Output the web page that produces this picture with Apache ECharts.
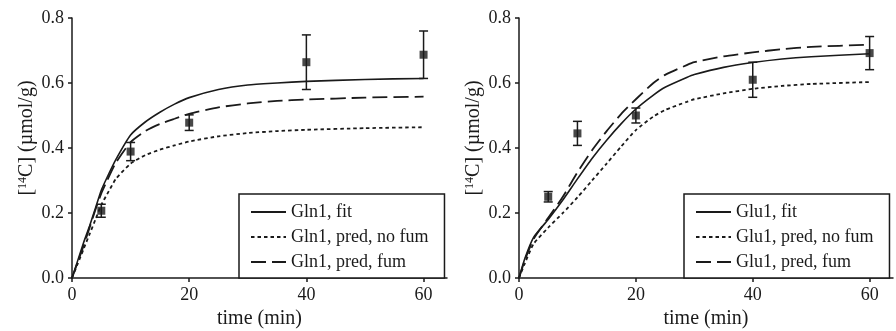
<!DOCTYPE html>
<html>
<head>
<meta charset="utf-8">
<script src="https://cdn.jsdelivr.net/npm/echarts@6/dist/echarts.min.js"></script>
<style>
  html, body { margin: 0; padding: 0; background: #fff; }
  #chart { width: 896px; height: 331px; }
</style>
</head>
<body>
<div id="chart"></div>
<script>
// observed points (both panels)
const obsTime = [5, 10, 20, 40, 60];
const gln1Obs = [0.207, 0.389, 0.478, 0.664, 0.687];
const gln1Err = [0.02, 0.028, 0.024, 0.084, 0.073];
const glu1Obs = [0.25, 0.445, 0.50, 0.61, 0.692];
const glu1Err = [0.016, 0.037, 0.023, 0.054, 0.051];

// model curves, left panel (Gln1)
const gln1Time = [0, 1, 2, 3, 4, 5, 6, 7.5, 10, 12.5, 15, 17.5, 20, 25, 30, 35, 40, 50, 60];
const gln1Fit = [0, 0.055, 0.11, 0.16, 0.215, 0.27, 0.31, 0.365, 0.44, 0.48, 0.51, 0.535, 0.555, 0.58, 0.594, 0.6, 0.605, 0.611, 0.614];
const gln1NoFum = [0, 0.045, 0.09, 0.135, 0.18, 0.225, 0.258, 0.305, 0.352, 0.378, 0.395, 0.408, 0.42, 0.436, 0.446, 0.452, 0.456, 0.461, 0.464];
const gln1Fum = [0, 0.05, 0.1, 0.155, 0.21, 0.26, 0.3, 0.355, 0.418, 0.452, 0.474, 0.49, 0.505, 0.525, 0.537, 0.545, 0.549, 0.555, 0.558];

// model curves, right panel (Glu1)
const glu1Time = [0, 1, 2.5, 5, 7.5, 10, 12.5, 15, 17.5, 20, 23, 25, 28.7, 30, 35, 40, 45, 50, 60];
const glu1Fit = [0, 0.06, 0.125, 0.18, 0.24, 0.305, 0.368, 0.424, 0.475, 0.52, 0.563, 0.587, 0.617, 0.626, 0.648, 0.663, 0.674, 0.681, 0.69];
const glu1NoFum = [0, 0.045, 0.105, 0.155, 0.2, 0.248, 0.3, 0.352, 0.405, 0.455, 0.497, 0.517, 0.542, 0.55, 0.568, 0.582, 0.591, 0.597, 0.603];
const glu1Fum = [0, 0.055, 0.12, 0.185, 0.25, 0.325, 0.393, 0.452, 0.505, 0.55, 0.6, 0.625, 0.655, 0.664, 0.682, 0.694, 0.704, 0.711, 0.718];

const xTicks = [0, 20, 40, 60];
const gln1Names = ['Gln1, fit', 'Gln1, pred, no fum', 'Gln1, pred, fum'];
const glu1Names = ['Glu1, fit', 'Glu1, pred, no fum', 'Glu1, pred, fum'];

const FONT = '"Liberation Serif", "DejaVu Serif", serif';
const INK = '#1a1a1a';

const zip = (xs, ys) => xs.map((x, i) => [x, ys[i]]);
const zip3 = (xs, ys, es) => xs.map((x, i) => [x, ys[i], es[i]]);

const lineStyles = [
  {type: 'solid', width: 1.6},
  {type: [3.5, 3], width: 1.8},
  {type: [15, 6], width: 1.8},
];

function errorBar(params, api) {
  const x = api.value(0), y = api.value(1), e = api.value(2);
  const top = api.coord([x, y + e]);
  const bot = api.coord([x, y - e]);
  const half = 4.5;
  const st = {stroke: INK, lineWidth: 1.5};
  return {
    type: 'group',
    children: [
      {type: 'line', shape: {x1: top[0], y1: top[1], x2: bot[0], y2: bot[1]}, style: st},
      {type: 'line', shape: {x1: top[0] - half, y1: top[1], x2: top[0] + half, y2: top[1]}, style: st},
      {type: 'line', shape: {x1: bot[0] - half, y1: bot[1], x2: bot[0] + half, y2: bot[1]}, style: st},
    ],
  };
}

const makeXAxis = (gridIndex) => ({
  type: 'value',
  gridIndex: gridIndex,
  min: 0,
  max: 64,
  name: 'time (min)',
  nameLocation: 'middle',
  nameGap: 31,
  nameTextStyle: {fontFamily: FONT, fontSize: 20, color: INK},
  splitLine: {show: false},
  axisLine: {onZero: false, lineStyle: {color: INK, width: 1.5}},
  axisTick: {length: 4, customValues: xTicks, lineStyle: {color: INK, width: 1.5}},
  axisLabel: {customValues: xTicks, margin: 8, fontFamily: FONT, fontSize: 18, color: INK},
});

const makeYAxis = (gridIndex) => ({
  type: 'value',
  gridIndex: gridIndex,
  min: 0,
  max: 0.8,
  interval: 0.2,
  name: '[{sup|14}C] (µmol/g)',
  nameLocation: 'middle',
  nameRotate: 90,
  nameGap: 35,
  nameTextStyle: {
    fontFamily: FONT, fontSize: 20, color: INK,
    padding: [0, 0, 0, 20],
    rich: {sup: {fontFamily: FONT, fontSize: 12, color: INK, verticalAlign: 'top', lineHeight: 20}},
  },
  splitLine: {show: false},
  axisLine: {show: true, lineStyle: {color: INK, width: 1.5}},
  axisTick: {show: true, length: 4, lineStyle: {color: INK, width: 1.5}},
  axisLabel: {
    margin: 8, fontFamily: FONT, fontSize: 18, color: INK,
    formatter: v => v.toFixed(1),
  },
});

const makeLegend = (names, left) => ({
  data: names,
  orient: 'vertical',
  left: left,
  bottom: 53,
  padding: [9, 16, 7, 11],
  itemWidth: 35,
  itemHeight: 14,
  itemGap: 7,
  itemStyle: {color: 'rgba(0,0,0,0)', borderWidth: 0},
  backgroundColor: '#fff',
  borderColor: INK,
  borderWidth: 1.5,
  borderRadius: 0,
  textStyle: {fontFamily: FONT, fontSize: 18, color: INK, lineHeight: 18},
});

const series = [];
function addPanel(idx, names, time, curves, obs, err) {
  curves.forEach((vals, i) => {
    series.push({
      type: 'line',
      name: names[i],
      xAxisIndex: idx,
      yAxisIndex: idx,
      data: zip(time, vals),
      symbol: 'none',
      smooth: 0.2,
      lineStyle: Object.assign({color: INK}, lineStyles[i]),
      itemStyle: {color: INK},
      z: 2,
    });
  });
  series.push({
    type: 'custom',
    xAxisIndex: idx,
    yAxisIndex: idx,
    renderItem: errorBar,
    data: zip3(obsTime, obs, err),
    z: 3,
  });
  series.push({
    type: 'scatter',
    xAxisIndex: idx,
    yAxisIndex: idx,
    symbol: 'rect',
    symbolSize: 8,
    itemStyle: {color: INK},
    data: zip(obsTime, obs),
    z: 4,
  });
}

addPanel(0, gln1Names, gln1Time, [gln1Fit, gln1NoFum, gln1Fum], gln1Obs, gln1Err);
addPanel(1, glu1Names, glu1Time, [glu1Fit, glu1NoFum, glu1Fum], glu1Obs, glu1Err);

const chart = echarts.init(document.getElementById('chart'));
chart.setOption({
  animation: false,
  backgroundColor: '#fff',
  grid: [
    {left: 72, top: 18, width: 375, height: 260, outerBoundsMode: 'none'},
    {left: 519, top: 18, width: 374, height: 260, outerBoundsMode: 'none'},
  ],
  xAxis: [makeXAxis(0), makeXAxis(1)],
  yAxis: [makeYAxis(0), makeYAxis(1)],
  legend: [makeLegend(gln1Names, 239), makeLegend(glu1Names, 684)],
  series: series,
});
</script>
</body>
</html>
